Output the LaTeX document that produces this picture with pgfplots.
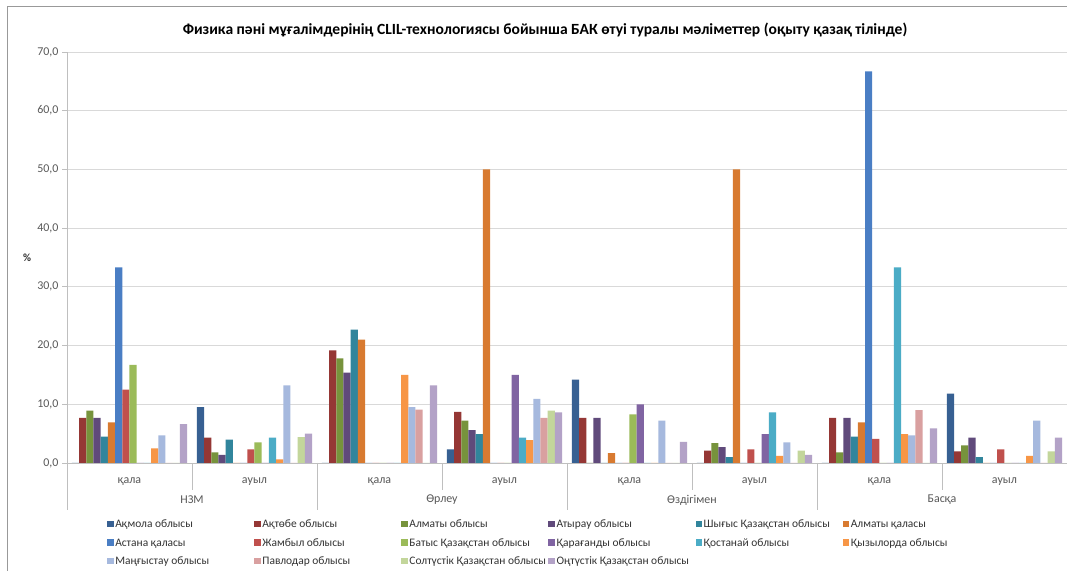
\documentclass[border=0pt]{standalone}
\usepackage{pgfplots}
\usepackage{pgfplotstable}
\pgfplotsset{compat=1.18}
\usepackage{fontspec}
\setmainfont{Carlito}
\definecolor{c1}{HTML}{376092}
\definecolor{c2}{HTML}{953735}
\definecolor{c3}{HTML}{77933C}
\definecolor{c4}{HTML}{604A7B}
\definecolor{c5}{HTML}{31859C}
\definecolor{c6}{HTML}{D87A30}
\definecolor{c7}{HTML}{4A7EC4}
\definecolor{c8}{HTML}{C0504D}
\definecolor{c9}{HTML}{9BBB59}
\definecolor{c10}{HTML}{8064A2}
\definecolor{c11}{HTML}{4BACC6}
\definecolor{c12}{HTML}{F79646}
\definecolor{c13}{HTML}{A6B9DE}
\definecolor{c14}{HTML}{D9A0A0}
\definecolor{c15}{HTML}{C3D69B}
\definecolor{c16}{HTML}{B3A2C7}
\definecolor{gridgray}{HTML}{D9D9D9}
\definecolor{axgray}{HTML}{BFBFBF}
\definecolor{txtgray}{HTML}{595959}
\pgfplotstableread{
x    s1   s2   s3   s4   s5   s6   s7   s8   s9   s10  s11  s12  s13  s14  s15  s16
0.5  0    7.7  8.9  7.7  4.5  6.9  33.3 12.5 16.7 0    0    2.5  4.7  0    0    6.6
1.5  9.5  4.3  1.8  1.4  4.0  0    0    2.3  3.5  0    4.3  0.6  13.2 0    4.4  5.0
2.5  0    19.2 17.8 15.4 22.7 21.0 0    0    0    0    0    15.0 9.5  9.1  0    13.2
3.5  2.3  8.7  7.2  5.6  4.9  50.0 0    0    0    15.0 4.3  3.9  10.9 7.7  8.9  8.6
4.5  14.2 7.7  0    7.7  0    1.7  0    0    8.3  10.0 0    0    7.2  0    0    3.6
5.5  0    2.1  3.4  2.7  1.0  50.0 0    2.3  0    4.9  8.6  1.2  3.5  0    2.1  1.4
6.5  0    7.7  1.8  7.7  4.5  6.9  66.7 4.1  0    0    33.3 4.9  4.7  9.0  0    5.9
7.5  11.8 2.0  3.0  4.3  1.0  0    0    2.3  0    0    0    1.2  7.2  0    2.0  4.3
}\data
\pgfplotsset{mybar/.style={fill=#1, draw=none,
  legend image code/.code={\fill[#1] (0bp,-3.3bp) rectangle (6.6bp,3.3bp);}}}
\newcommand{\legent}[1]{\addlegendentry{\makebox[135.5bp][l]{\rule[-3bp]{0pt}{12bp}#1}}}
\begin{document}
\begin{tikzpicture}[x=1bp,y=1bp]
\useasboundingbox (0,0) rectangle (1067,571);
\fill[white] (0,0) rectangle (1067,571);
\draw[axgray!80!black,line width=0.8bp] (7,0) -- (7,565) -- (1067,565);
\node[font=\fontsize{15.6}{18}\selectfont\bfseries] at (545,541) {Физика пәні мұғалімдерінің CLIL-технологиясы бойынша БАК өтуі туралы мәліметтер (оқыту қазақ тілінде)};
\begin{axis}[
  at={(67bp,108bp)}, anchor=south west,
  scale only axis, width=1000bp, height=411bp,
  ybar=0pt, bar width=7.2bp,
  xmin=0, xmax=8, ymin=0, ymax=70,
  ytick={0,10,...,70},
  ymajorgrids, grid style={draw=gridgray, line width=0.8bp},
  axis lines=left, axis line style={-, draw=axgray, line width=0.8bp},
  clip=false,
  xtick={0.5,1.5,...,7.5},
  xticklabels={қала,ауыл,қала,ауыл,қала,ауыл,қала,ауыл},
  xtick style={draw=none},
  xticklabel style={anchor=center, yshift=-14bp, font=\fontsize{12}{14}\selectfont, text=txtgray},
  ytick style={draw=axgray, line width=0.8bp},
  tick align=outside, major tick length=5bp,
  yticklabel style={font=\fontsize{12}{14}\selectfont, text=txtgray},
  /pgf/number format/.cd, fixed, fixed zerofill, precision=1, use comma, assume math mode=true,
  /pgfplots/.cd,
  legend columns=6,
  legend style={at={(0.037,-0.1265)}, anchor=north west, draw=none, fill=none,
    font=\fontsize{11.5}{13}\selectfont, text=black!80,
    nodes={inner sep=1.5bp}, row sep=5bp,
    /tikz/every even column/.append style={column sep=2bp}},
]
\addplot[mybar=c1] table[x=x,y=s1]{\data}; \legent{Ақмола облысы}
\addplot[mybar=c2] table[x=x,y=s2]{\data}; \legent{Ақтөбе облысы}
\addplot[mybar=c3] table[x=x,y=s3]{\data}; \legent{Алматы облысы}
\addplot[mybar=c4] table[x=x,y=s4]{\data}; \legent{Атырау облысы}
\addplot[mybar=c5] table[x=x,y=s5]{\data}; \legent{Шығыс Қазақстан облысы}
\addplot[mybar=c6] table[x=x,y=s6]{\data}; \legent{Алматы қаласы}
\addplot[mybar=c7] table[x=x,y=s7]{\data}; \legent{Астана қаласы}
\addplot[mybar=c8] table[x=x,y=s8]{\data}; \legent{Жамбыл облысы}
\addplot[mybar=c9] table[x=x,y=s9]{\data}; \legent{Батыс Қазақстан облысы}
\addplot[mybar=c10] table[x=x,y=s10]{\data}; \legent{Қарағанды облысы}
\addplot[mybar=c11] table[x=x,y=s11]{\data}; \legent{Қостанай облысы}
\addplot[mybar=c12] table[x=x,y=s12]{\data}; \legent{Қызылорда облысы}
\addplot[mybar=c13] table[x=x,y=s13]{\data}; \legent{Маңғыстау облысы}
\addplot[mybar=c14] table[x=x,y=s14]{\data}; \legent{Павлодар облысы}
\addplot[mybar=c15] table[x=x,y=s15]{\data}; \legent{Солтүстік Қазақстан облысы}
\addplot[mybar=c16] table[x=x,y=s16]{\data}; \legent{Оңтүстік Қазақстан облысы}
\pgfplotsinvokeforeach{1,3,5,7}{\draw[axgray, line width=0.8bp] (axis cs:#1,0) -- ++(0,-27bp);}
\pgfplotsinvokeforeach{0,2,4,6,8}{\draw[axgray, line width=0.8bp] (axis cs:#1,0) -- ++(0,-47bp);}
\node[font=\fontsize{12}{14}\selectfont, text=txtgray] at (axis cs:1,0) [yshift=-37bp] {НЗМ};
\node[font=\fontsize{12}{14}\selectfont, text=txtgray] at (axis cs:3,0) [yshift=-37bp] {Өрлеу};
\node[font=\fontsize{12}{14}\selectfont, text=txtgray] at (axis cs:5,0) [yshift=-37bp] {Өздігімен};
\node[font=\fontsize{12}{14}\selectfont, text=txtgray] at (axis cs:7,0) [yshift=-37bp] {Басқа};
\node[font=\fontsize{11}{13}\selectfont\bfseries, text=black!80] at (rel axis cs:0,0.5) [xshift=-40bp] {\%};
\end{axis}
\end{tikzpicture}
\end{document}
